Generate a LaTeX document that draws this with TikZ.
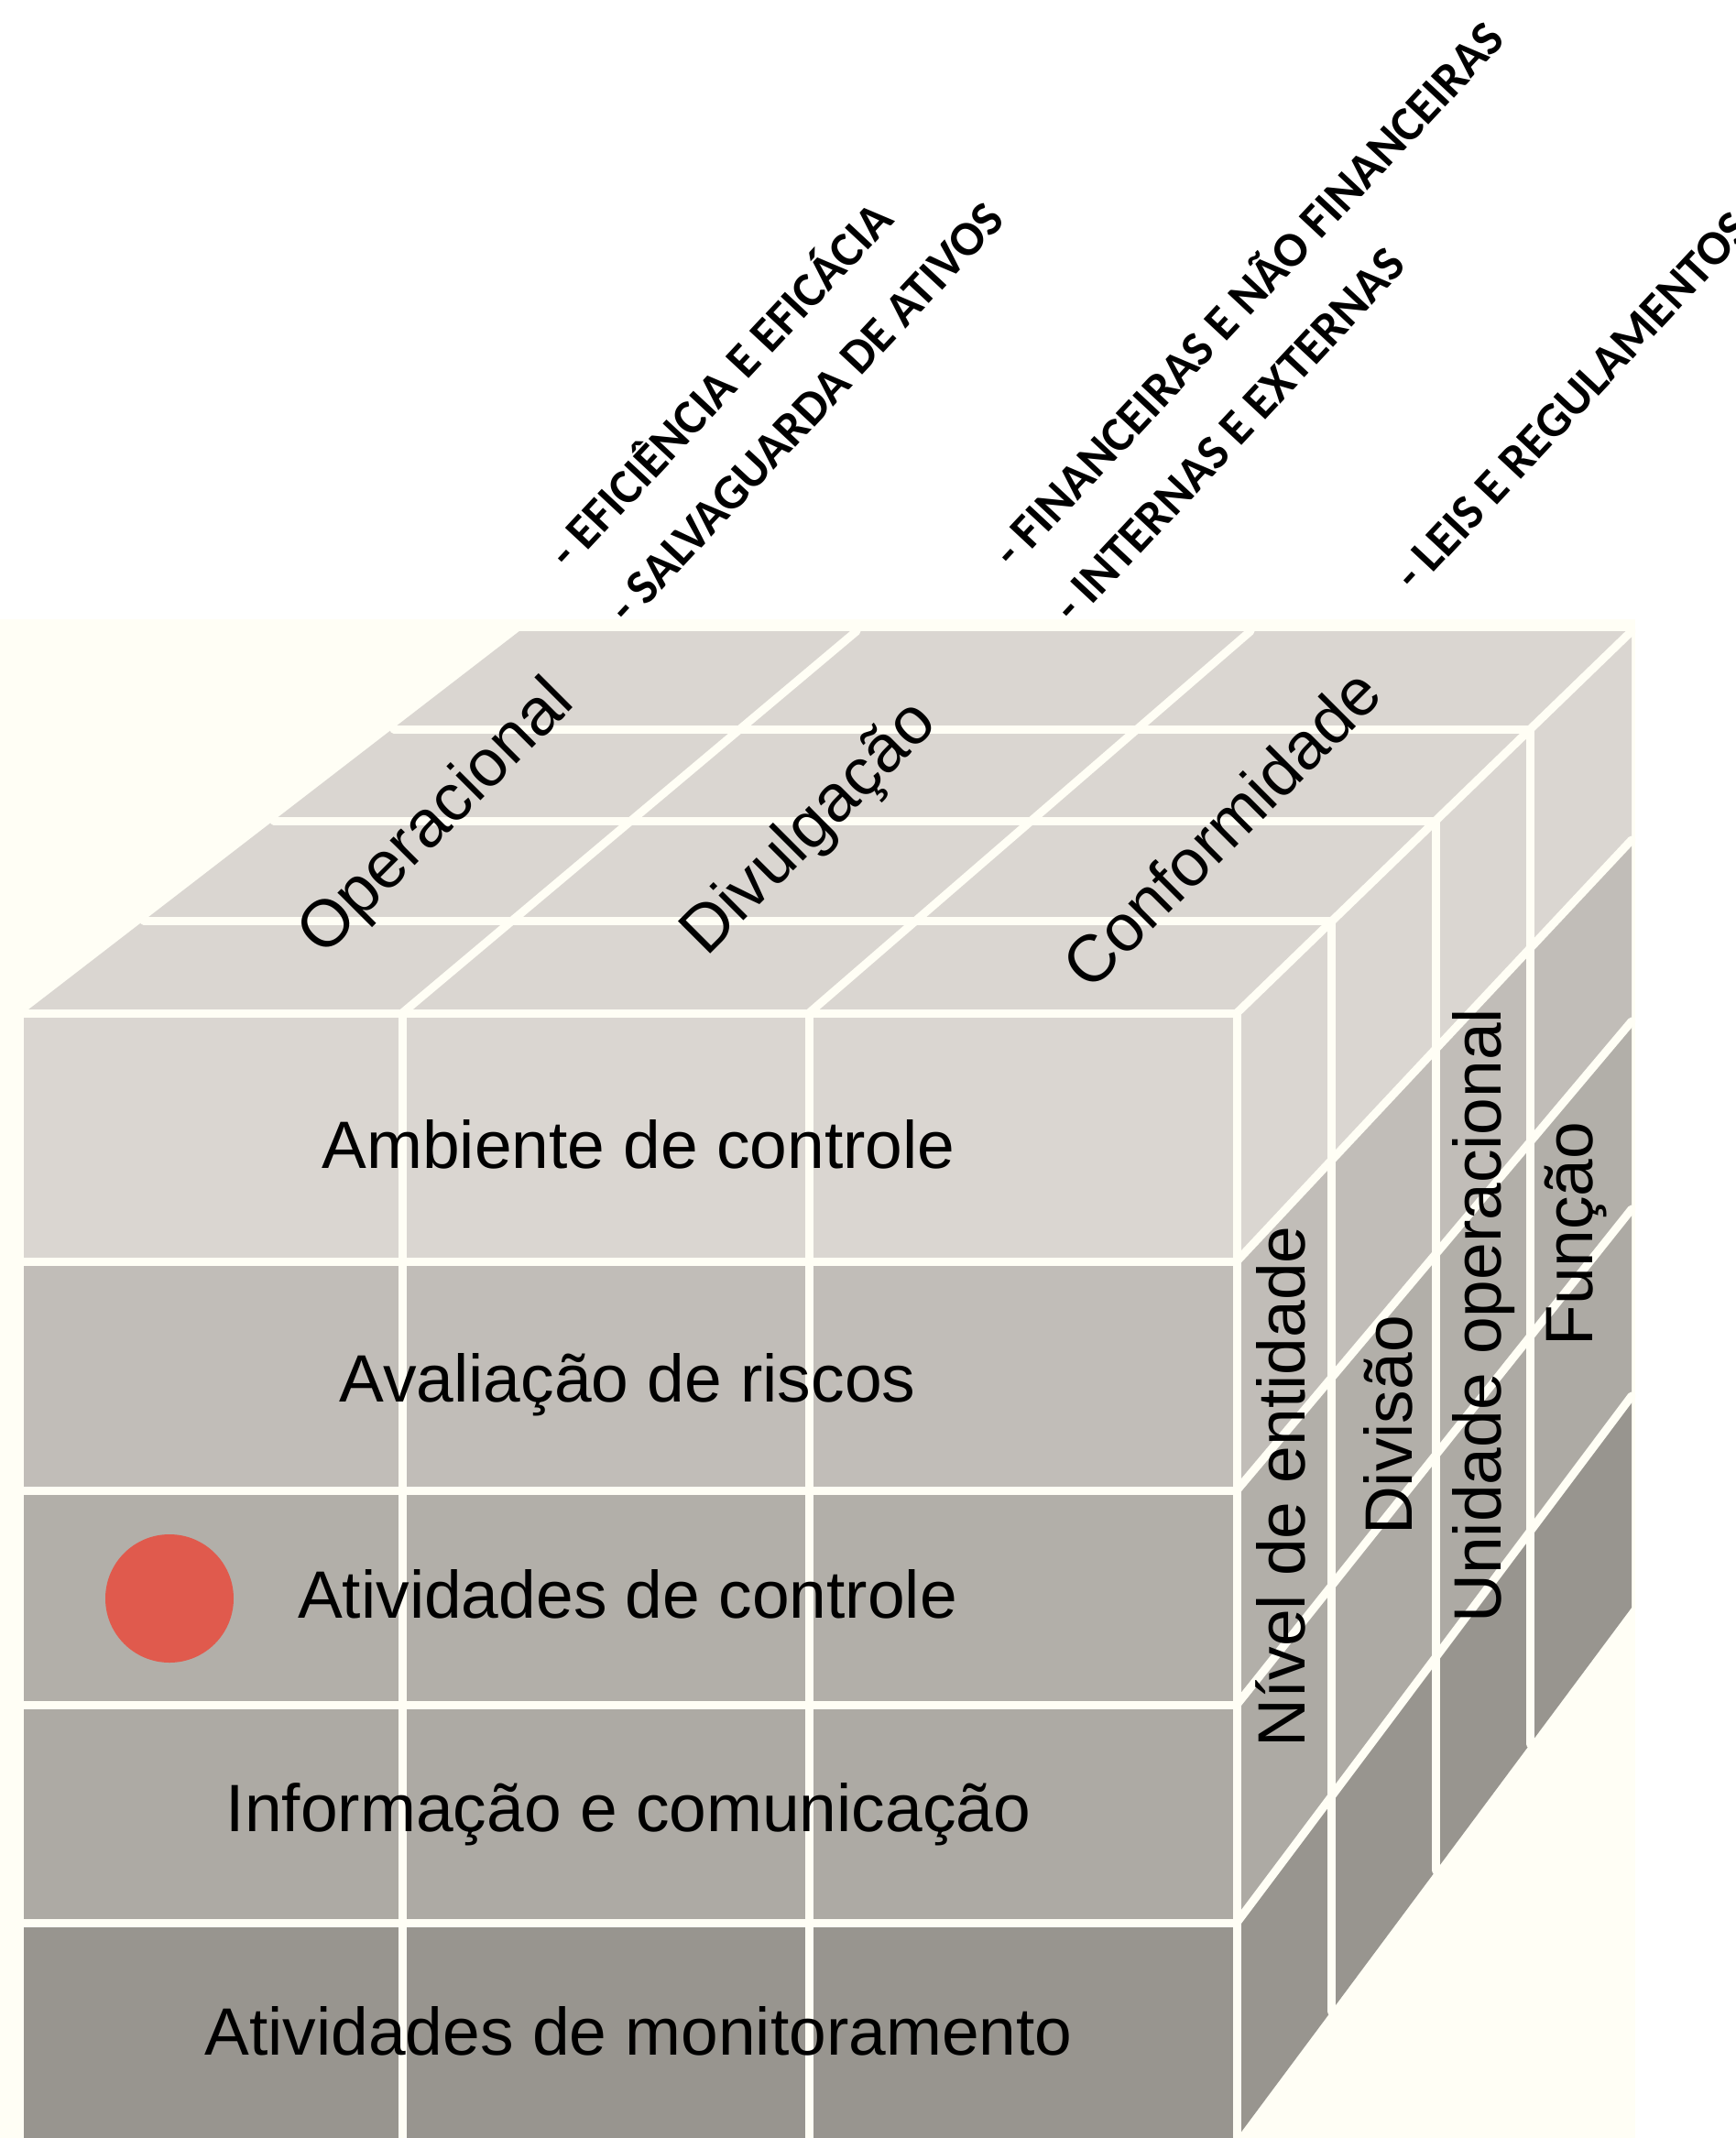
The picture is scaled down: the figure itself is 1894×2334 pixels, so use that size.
\documentclass[tikz,border=0pt]{standalone}
\usepackage{fontspec}
\setmainfont{Liberation Sans}
\newfontfamily\carlito{Carlito}
\definecolor{cCreme}{HTML}{FFFEF5}
\definecolor{cAmb}{HTML}{DAD6D1}
\definecolor{cRis}{HTML}{C1BDB8}
\definecolor{cAtv}{HTML}{B2AFA9}
\definecolor{cInf}{HTML}{ADAAA4}
\definecolor{cMon}{HTML}{98958F}
\definecolor{cPonto}{HTML}{E05A4D}
\begin{document}
\begin{tikzpicture}[x=0.01cm, y=-0.01cm, line join=round, line cap=round,
	linha/.style={draw=cCreme, line width=0.09cm},
	frente/.style={font=\fontsize{20.8}{25}\selectfont, anchor=base, inner sep=0pt},
	cima/.style={font=\fontsize{20.6}{24}\selectfont, rotate=45, inner sep=0pt},
	lado/.style={font=\fontsize{20.8}{25}\selectfont, rotate=90, inner sep=0pt},
	objetivo/.style={font=\carlito\bfseries\fontsize{15.2}{18}\selectfont, rotate=47, anchor=base west, inner sep=0pt}]
	\useasboundingbox (0,0) rectangle (1894,2334);
	\fill[white] (0,0) rectangle (1894,2334);
	\fill[cCreme] (0,676) rectangle (1785,2334);
	% cantos do cubo
	\coordinate (L0) at (26,1106); \coordinate (L4) at (567,689);
	\coordinate (R0) at (1350,1106); \coordinate (R4) at (1781,689);
	% face de cima
	\fill[cAmb] (L0) -- (R0) -- (R4) -- (L4) -- cycle;
	% face da frente
	\fill[cAmb] (26,1106) rectangle (1350,1377);
	\fill[cRis] (26,1377) rectangle (1350,1627);
	\fill[cAtv] (26,1627) rectangle (1350,1861);
	\fill[cInf] (26,1861) rectangle (1350,2099);
	\fill[cMon] (26,2099) rectangle (1350,2334);
	% face lateral
	\fill[cAmb] (1350,1106) -- (1781,689) -- (1781,917) -- (1350,1377) -- cycle;
	\fill[cRis] (1350,1377) -- (1781,917) -- (1781,1115) -- (1350,1627) -- cycle;
	\fill[cAtv] (1350,1627) -- (1781,1115) -- (1781,1320) -- (1350,1861) -- cycle;
	\fill[cInf] (1350,1861) -- (1781,1320) -- (1781,1524) -- (1350,2099) -- cycle;
	\fill[cMon] (1350,2099) -- (1781,1524) -- (1781,1755) -- (1350,2334) -- cycle;
	% linhas da frente
	\draw[linha] (L0) -- (R0);
	\draw[linha] (26,1377) -- (1350,1377) (26,1627) -- (1350,1627);
	\draw[linha] (26,1861) -- (1350,1861) (26,2099) -- (1350,2099);
	\draw[linha] (439,1106) -- (439,2334) (883,1106) -- (883,2334) (R0) -- (1350,2334);
	% linhas de cima
	\draw[linha] (157,1005) -- (1453,1005) (299,896) -- (1567,896) (430,796) -- (1670,796);
	\draw[linha] (439,1106) -- (935,689) (883,1106) -- (1365,689) (R0) -- (R4);
	% linhas do lado
	\draw[linha] (1350,1377) -- (1781,917) (1350,1627) -- (1781,1115);
	\draw[linha] (1350,1861) -- (1781,1320) (1350,2099) -- (1781,1524);
	\draw[linha] (1453,1005) -- (1453,2196) (1567,896) -- (1567,2042) (1670,796) -- (1670,1904);
	% ponto
	\fill[cPonto] (185,1745) circle (70);
	% componentes
	\node[frente] (amb) at (697,1275) {Ambiente de controle};
	\node[frente] (ris) at (685,1530) {Avaliação de riscos};
	\node[frente] (atv) at (685,1766) {Atividades de controle};
	\node[frente] (inf) at (686,1999) {Informação e comunicação};
	\node[frente] (mon) at (697,2243) {Atividades de monitoramento};
	% objetivos
	\node[cima] (oper) at (478,894) {Operacional};
	\node[cima] (divu) at (885,906) {Divulgação};
	\node[cima] (conf) at (1333,904) {Conformidade};
	% estrutura
	\node[lado] (nivel) at (1398,1623) {Nível de entidade};
	\node[lado] (divi) at (1515,1556) {Divisão};
	\node[lado] (unid) at (1620,1436) {Unidade operacional};
	\node[lado] (func) at (1720,1347) {Função};
	% detalhes dos objetivos
	\node[objetivo] (efic) at (621,624) {- EFICIÊNCIA E EFICÁCIA};
	\node[objetivo] (salv) at (686,684) {- SALVAGUARDA DE ATIVOS};
	\node[objetivo] (finan) at (1106,623) {- FINANCEIRAS E NÃO FINANCEIRAS};
	\node[objetivo] (inter) at (1172,683) {- INTERNAS E EXTERNAS};
	\node[objetivo] (leis) at (1544,648) {- LEIS E REGULAMENTOS};
\end{tikzpicture}
\end{document}
